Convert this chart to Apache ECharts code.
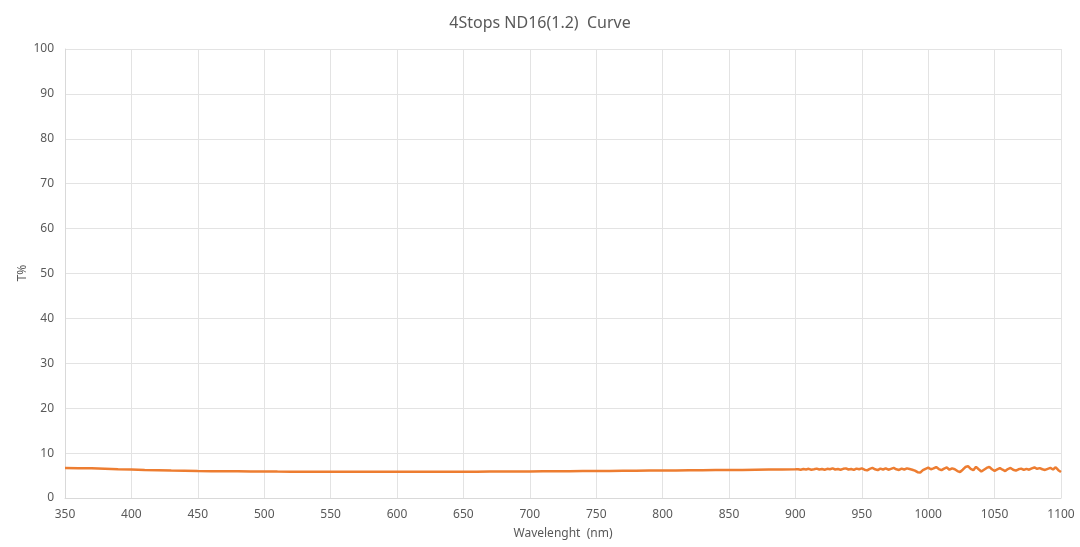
<!DOCTYPE html>
<html>
<head>
<meta charset="utf-8">
<script src="https://cdn.jsdelivr.net/npm/echarts@6/dist/echarts.min.js"></script>
<style>
  html, body { margin: 0; padding: 0; background: #fff; }
  #chart { width: 1080px; height: 547px; }
</style>
</head>
<body>
<div id="chart"></div>
<script>
// smooth part, 350-900 nm every 10 nm
const smoothWl = [350,360,370,380,390,400,410,420,430,440,450,460,470,480,490,500,510,520,530,540,
  550,560,570,580,590,600,610,620,630,640,650,660,670,680,690,700,710,720,730,740,
  750,760,770,780,790,800,810,820,830,840,850,860,870,880,890,900]
const smoothT = [6.7,6.65,6.6,6.5,6.4,6.35,6.25,6.2,6.1,6.05,6.0,5.97,5.95,5.93,5.9,5.9,5.88,5.87,5.86,5.85,
  5.85,5.85,5.84,5.84,5.84,5.84,5.84,5.85,5.85,5.86,5.86,5.87,5.88,5.89,5.9,5.91,5.93,5.95,5.97,5.99,
  6.0,6.03,6.05,6.07,6.1,6.12,6.15,6.17,6.19,6.21,6.23,6.26,6.29,6.32,6.35,6.38]

// noisy part, 902-1100 nm every 2 nm
const noisyWl = [902,904,906,908,910,912,914,916,918,920,922,924,926,928,930,932,934,936,938,940,
  942,944,946,948,950,952,954,956,958,960,962,964,966,968,970,972,974,976,978,980,
  982,984,986,988,990,992,994,996,998,1000,1002,1004,1006,1008,1010,1012,1014,1016,1018,1020,
  1022,1024,1026,1028,1030,1032,1034,1036,1038,1040,1042,1044,1046,1048,1050,1052,1054,1056,1058,1060,
  1062,1064,1066,1068,1070,1072,1074,1076,1078,1080,1082,1084,1086,1088,1090,1092,1094,1096,1098,1100]
const noisyT = [6.4,6.3,6.45,6.35,6.5,6.3,6.4,6.55,6.35,6.45,6.3,6.5,6.4,6.6,6.35,6.45,6.3,6.5,6.6,6.35,
  6.45,6.25,6.55,6.4,6.6,6.3,6.15,6.5,6.7,6.4,6.2,6.55,6.35,6.6,6.3,6.5,6.7,6.4,6.25,6.55,
  6.35,6.6,6.45,6.3,6.1,5.75,5.65,6.2,6.5,6.75,6.4,6.6,6.9,6.45,6.2,6.55,6.8,6.3,6.6,6.4,
  6.0,5.8,6.3,6.9,7.1,6.5,6.2,6.95,6.4,5.9,6.3,6.7,6.95,6.4,6.05,6.35,6.65,6.3,6.0,6.45,
  6.7,6.3,6.1,6.4,6.55,6.25,6.5,6.3,6.6,6.8,6.5,6.65,6.4,6.25,6.5,6.7,6.35,6.85,6.2,5.8]

const wavelengths = smoothWl.concat(noisyWl)
const transmission = smoothT.concat(noisyT)

const xTicks = [350, 1100, 50]   // min, max, step
const yTicks = [0, 100, 10]

const myChart = echarts.init(document.getElementById('chart'))

const option = {
  animation: false,
  title: {
    text: '4Stops ND16(1.2)  Curve',
    left: 'center',
    top: 10,
    textStyle: {
      fontFamily: 'Noto Sans',
      fontSize: 16,
      fontWeight: 'normal',
      color: '#595959'
    }
  },
  grid: {
    left: 65,
    right: 19,
    top: 49,
    bottom: 49
  },
  // y axis title, placed by hand (axis name kept drifting to the edge)
  graphic: [
    {
      type: 'text',
      x: 23,
      y: 273,
      rotation: Math.PI / 2,
      style: {
        text: 'T%',
        fill: '#595959',
        font: '12px "Noto Sans"',
        align: 'center',
        verticalAlign: 'middle'
      }
    }
  ],
  xAxis: {
    type: 'value',
    min: xTicks[0],
    max: xTicks[1],
    interval: xTicks[2],
    name: 'Wavelenght  (nm)',
    nameLocation: 'middle',
    nameGap: 30,
    nameTextStyle: { color: '#595959', fontSize: 12, fontFamily: 'Noto Sans' },
    axisLine: { lineStyle: { color: '#d9d9d9', width: 1 } },
    axisTick: { show: false },
    axisLabel: { color: '#595959', fontSize: 12, fontFamily: 'Noto Sans', margin: 11, formatter: v => String(v) },
    splitLine: { show: true, lineStyle: { color: '#e3e3e3' } }
  },
  yAxis: {
    type: 'value',
    min: yTicks[0],
    max: yTicks[1],
    interval: yTicks[2],
    axisLine: { show: true, lineStyle: { color: '#d9d9d9', width: 1 } },
    axisTick: { show: false },
    axisLabel: { color: '#595959', fontSize: 12, fontFamily: 'Noto Sans', margin: 11 },
    splitLine: { show: true, lineStyle: { color: '#e3e3e3' } }
  },
  series: [
    {
      type: 'line',
      data: wavelengths.map((w, i) => [w, transmission[i]]),
      showSymbol: false,
      lineStyle: { color: '#ED7D31', width: 2.5 },
      itemStyle: { color: '#ED7D31' }
    }
  ]
}

myChart.setOption(option)
</script>
</body>
</html>
